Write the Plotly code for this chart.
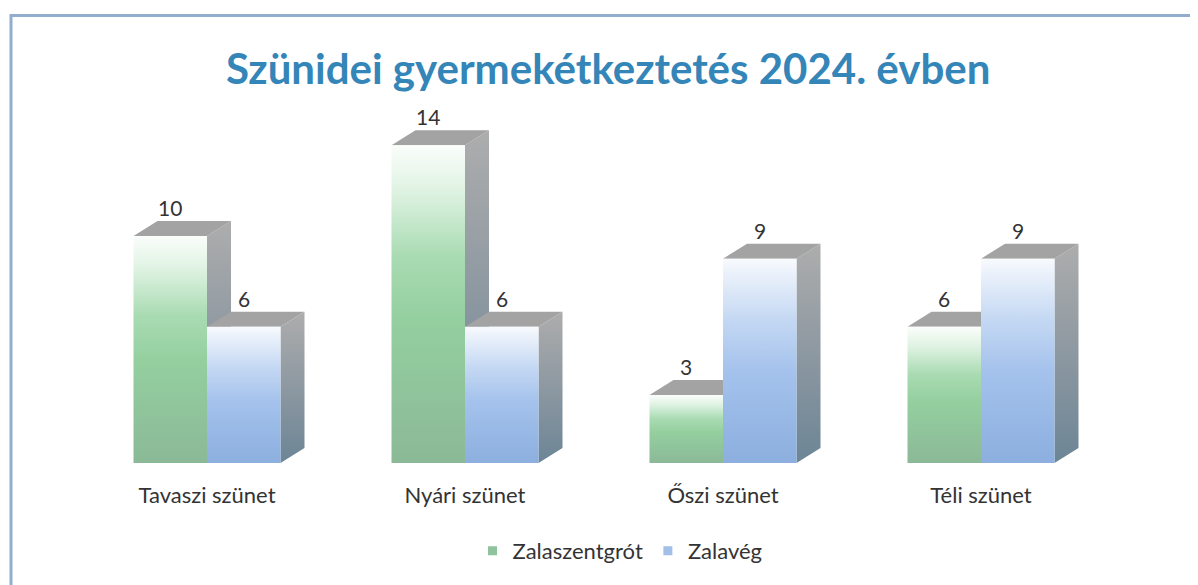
import plotly.graph_objects as go

# ---------------- data ----------------
categories = ["Tavaszi szünet", "Nyári szünet", "Őszi szünet", "Téli szünet"]
series_names = ["Zalaszentgrót", "Zalavég"]
zalaszentgrot = [10, 14, 3, 6]
zalaveg = [6, 6, 9, 9]
title_text = "Szünidei gyermekétkeztetés 2024. évben"

# ---------------- styling / geometry ----------------
OFF = 8                   # page body margin compensation
W, H = 1198 - OFF, 585 - OFF
ML, MR, MT, MB = 12, 20, 83, 105
PX_PER_X = 258.0          # pixels per category step
PX_PER_Y = 22.7           # pixels per value unit
X0_PX = 207.0 - OFF       # pixel of first category centre
BASE_PX = 463.0 - OFF     # pixel of value 0

bar_w = 73.5 / PX_PER_X
dx = 24 / PX_PER_X
dy = 15 / PX_PER_Y

front_scales = [
    [[0, "#8bb997"], [0.45, "#94cf9f"], [0.65, "#a9dbb2"], [0.86, "#e0f3e3"], [1, "#fbfdfb"]],
    [[0, "#8cafdf"], [0.45, "#a4c2ec"], [0.7, "#c4d8f3"], [0.9, "#e6eefa"], [1, "#f8fafd"]],
]
side_scale = [[0, "#6c8596"], [0.5, "#8d98a1"], [1, "#adadad"]]
top_color = "#a3a3a3"
legend_colors = ["#8fc39d", "#a2bfe8"]
FONT = "Lato, Open Sans, sans-serif"

fig = go.Figure()

x_lo = (ML - X0_PX) / PX_PER_X
x_hi = (W - MR - X0_PX) / PX_PER_X
y_hi = (BASE_PX - MT) / PX_PER_Y
y_lo = (BASE_PX - (H - MB)) / PX_PER_Y

annotations = []
series = [zalaszentgrot, zalaveg]
for ci, cat in enumerate(categories):
    for si, vals in enumerate(series):
        v = vals[ci]
        xa = ci - bar_w if si == 0 else ci
        xb = xa + bar_w
        # side face
        fig.add_trace(go.Scatter(
            x=[xb, xb + dx, xb + dx, xb, xb],
            y=[0, dy, v + dy, v, 0],
            fill="toself", mode="lines", line=dict(width=0, color="rgba(0,0,0,0)"),
            fillgradient=dict(type="vertical", colorscale=side_scale, start=0, stop=v + dy),
            hoverinfo="skip", showlegend=False))
        # top face
        fig.add_trace(go.Scatter(
            x=[xa, xb, xb + dx, xa + dx, xa],
            y=[v, v, v + dy, v + dy, v],
            fill="toself", mode="lines", line=dict(width=0, color="rgba(0,0,0,0)"),
            fillcolor=top_color, hoverinfo="skip", showlegend=False))
        # front face
        fig.add_trace(go.Scatter(
            x=[xa, xb, xb, xa, xa],
            y=[0, 0, v, v, 0],
            fill="toself", mode="lines", line=dict(width=0, color="rgba(0,0,0,0)"),
            fillgradient=dict(type="vertical", colorscale=front_scales[si], start=0, stop=v),
            hoverinfo="skip", showlegend=False))
        annotations.append(dict(
            x=(xa + xb) / 2, y=v + dy, xref="x", yref="y", text=str(v),
            showarrow=False, yanchor="bottom", yshift=-1,
            font=dict(family=FONT, size=21, color="#333333")))

# legend proxies
for name, col in zip(series_names, legend_colors):
    fig.add_trace(go.Scatter(x=[None], y=[None], mode="markers", name=name,
                             marker=dict(symbol="square", size=9, color=col)))

plot_h = H - MT - MB
plot_w = W - ML - MR
def px_to_paper_x(p):
    return (p - OFF - ML) / plot_w
def px_to_paper_y(p):
    return (H - MB - (p - OFF)) / plot_h

annotations.append(dict(
    x=px_to_paper_x(608), y=px_to_paper_y(68), xref="paper", yref="paper",
    text="<b>" + title_text + "</b>", showarrow=False, xanchor="center", yanchor="middle",
    font=dict(family=FONT, size=42, color="#3485b8")))

shapes = [
    dict(type="line", xref="paper", yref="paper",
         x0=px_to_paper_x(11), x1=px_to_paper_x(1200), y0=px_to_paper_y(15.5), y1=px_to_paper_y(15.5),
         line=dict(color="#93aecd", width=3)),
    dict(type="line", xref="paper", yref="paper",
         x0=px_to_paper_x(11), x1=px_to_paper_x(11), y0=px_to_paper_y(14), y1=px_to_paper_y(600),
         line=dict(color="#93aecd", width=3)),
]

fig.update_layout(
    width=W, height=H,
    margin=dict(l=ML, r=MR, t=MT, b=MB),
    paper_bgcolor="white", plot_bgcolor="white",
    showlegend=True,
    legend=dict(orientation="h", x=px_to_paper_x(620), y=px_to_paper_y(551),
                xanchor="center", yanchor="middle",
                font=dict(family=FONT, size=22, color="#333333"),
                itemwidth=30, tracegroupgap=0),
    xaxis=dict(range=[x_lo, x_hi], tickvals=list(range(len(categories))), ticktext=categories,
               showgrid=False, zeroline=False, showline=False, ticks="",
               tickfont=dict(family=FONT, size=22, color="#333333"),
               fixedrange=True),
    yaxis=dict(range=[y_lo, y_hi], showgrid=False, zeroline=False, showline=False,
               showticklabels=False, ticks="", fixedrange=True),
    annotations=annotations,
    shapes=shapes,
)

fig.write_html("out.html")
